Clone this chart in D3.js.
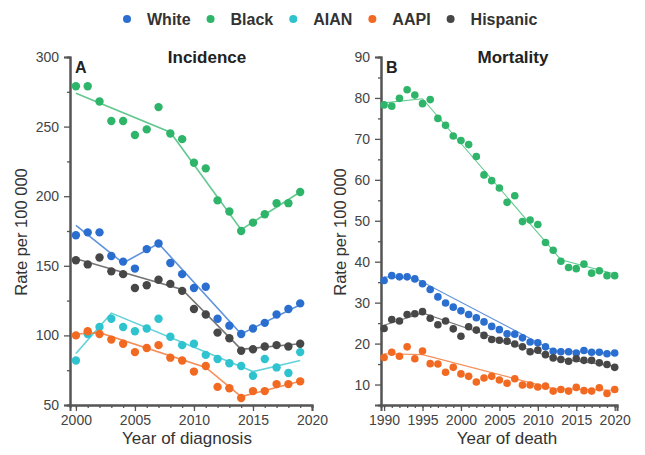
<html>
<head>
<style>
  body { margin: 0; background: #fff; }
  text { font-family: "Liberation Sans", Arial, sans-serif; }
</style>
</head>
<body>
<svg id="svg" width="645" height="455"></svg>
<script src="https://cdn.jsdelivr.net/npm/d3@7"></script>
<script type="text/javascript">
// ---- data ----
const groups = ["White", "Black", "AIAN", "AAPI", "Hispanic"];
const colors = ["#2a6fd0", "#2fb56a", "#2ec3cf", "#f26a22", "#474747"];

const incYears = d3.range(2000, 2020);
const incWhite = [172,174,174,157,153,148,162,166,152,144,134,135,112,107,101,105,109,115,119,123];
const incBlack = [279,279,268,254,254,244,248,264,245,241,224,220,197,189,175,181,187,195,195,203];
const incAIAN  = [82,101,106,112,106,103,105,112,99,93,94,86,83,80,78,71,83,77,73,88];
const incAAPI  = [100,103,101,97,94,88,91,93,84,82,74,78,63,62,55,60,60,65,65,67];
const incHisp  = [154,151,156,146,144,134,136,140,137,132,119,115,102,98,89,90,92,93,92,94];

// joinpoint trend lines (year, rate)
const incTrendWhite = [[2000,179],[2004,152],[2007,166],[2014,101],[2019,122]];
const incTrendBlack = [[2000,274],[2008,246],[2014,176],[2019,203]];
const incTrendAIAN  = [[2000,87],[2003,116],[2015,74],[2019,82]];
const incTrendAAPI  = [[2000,101],[2002,102],[2011,77],[2014,56],[2019,67]];
const incTrendHisp  = [[2000,155],[2009,133],[2014,90],[2019,94]];

const morYears = d3.range(1990, 2021);
const morWhite = [35.4,36.6,36.3,36.3,35.8,34.6,33.2,31.4,29.9,28.9,28.0,27.1,26.3,25.3,24.2,23.4,22.4,22.3,21.4,20.4,20.2,19.2,18.1,18.0,18.0,17.7,18.3,17.9,17.9,17.5,17.7];
const morBlack = [78.3,78.0,79.9,82.0,80.7,78.6,79.6,75.0,73.3,70.7,69.6,68.6,65.7,61.2,59.8,58.0,54.5,56.1,49.8,50.2,49.1,44.7,42.8,40.1,38.6,38.3,39.4,37.2,37.8,36.6,36.6];
const morAAPI  = [16.6,17.9,16.9,19.2,16.3,18.2,15.1,15.0,13.0,14.2,12.6,12.0,10.6,11.6,12.0,11.1,10.3,11.4,9.9,9.9,9.4,9.6,8.4,8.8,8.4,9.3,8.5,8.4,9.2,7.8,8.8];
const morHisp  = [23.7,25.9,25.5,27.1,27.3,27.8,26.2,24.6,25.5,23.6,21.8,24.1,23.3,22.0,21.0,20.8,20.6,19.9,19.2,18.0,18.4,17.3,16.5,16.1,15.7,16.3,15.9,15.9,15.3,14.9,14.2];

const morTrendWhite = [[1990,36.3],[1994,36.0],[2012,18.3],[2020,17.6]];
const morTrendBlack = [[1990,78.8],[1995,79.8],[2013,40.5],[2020,37]];
const morTrendAAPI  = [[1990,17.5],[1995,17.3],[2012,9.0],[2020,8.6]];
const morTrendHisp  = [[1990,24.5],[1995,27.5],[2012,16.5],[2020,14.5]];

const incTicksX = [2000, 2005, 2010, 2015, 2020];
const incTicksY = [50, 100, 150, 200, 250, 300];
const morTicksX = [1990, 1995, 2000, 2005, 2010, 2015, 2020];
const morTicksY = [10, 20, 30, 40, 50, 60, 70, 80, 90];

const svg = d3.select("#svg");

// ---- legend ----
let lx = 127;
groups.forEach(function (g, i) {
  svg.append("circle").attr("cx", lx).attr("cy", 19).attr("r", 4).attr("fill", colors[i]);
  let t = svg.append("text").attr("x", lx + 20).attr("y", 25)
    .attr("font-size", 16).attr("font-weight", "bold").attr("fill", "#333").text(g);
  lx += 20 + t.node().getComputedTextLength() + 20;
});

function panel(opt) {
  const x = d3.scaleLinear().domain(opt.xdom).range(opt.xr);
  const y = d3.scaleLinear().domain(opt.ydom).range([405, 57]);
  const g = svg.append("g");

  // axes
  const ax = g.append("g").attr("transform", "translate(0,405)");
  ax.call(d3.axisBottom(x).tickValues(opt.minorX).tickSize(3).tickFormat(""));
  ax.append("g").call(d3.axisBottom(x).tickValues(opt.ticksX).tickSize(6).tickPadding(4).tickFormat(d3.format("d")));
  const ay = g.append("g").attr("transform", "translate(" + opt.xr[0] + ",0)");
  ay.call(d3.axisLeft(y).tickValues(opt.minorY).tickSize(3).tickFormat(""));
  ay.append("g").call(d3.axisLeft(y).tickValues(opt.ticksY).tickSize(6).tickPadding(5));
  g.selectAll(".domain").attr("stroke", "#555").attr("stroke-width", 2);
  g.selectAll(".tick line").attr("stroke", "#555").attr("stroke-width", 1.3);
  g.selectAll(".tick text").attr("font-size", 14).attr("fill", "#444")
    .attr("font-family", "Liberation Sans, Arial, sans-serif");

  // trend lines
  const line = d3.line().x(d => x(d[0])).y(d => y(d[1]));
  opt.series.forEach(function (s) {
    g.append("path").attr("d", line(s.trend)).attr("fill", "none")
      .attr("stroke", colors[s.c]).attr("stroke-opacity", 0.75).attr("stroke-width", opt.lw);
  });
  // points
  opt.series.forEach(function (s) {
    g.append("g").selectAll("circle").data(s.vals).enter().append("circle")
      .attr("cx", (d, i) => x(opt.years[i]))
      .attr("cy", d => y(d))
      .attr("r", opt.r)
      .attr("fill", colors[s.c]);
  });

  // labels
  g.append("text").attr("x", opt.titleX).attr("y", 63).attr("text-anchor", "middle")
    .attr("font-size", 17).attr("font-weight", "bold").attr("fill", "#222").text(opt.title);
  g.append("text").attr("x", opt.xr[0] + 5).attr("y", 73)
    .attr("font-size", 16).attr("font-weight", "bold").attr("fill", "#222").text(opt.letter);
  g.append("text").attr("x", opt.xlabX).attr("y", 444).attr("text-anchor", "middle")
    .attr("font-size", 17).attr("fill", "#333").text(opt.xlab);
  g.append("text").attr("transform", "translate(" + opt.ylabX + ",232) rotate(-90)")
    .attr("text-anchor", "middle").attr("font-size", 16.5).attr("fill", "#333")
    .text("Rate per 100 000");
}

panel({
  xdom: [1999.5, 2020], xr: [70, 312], ydom: [50, 300],
  years: incYears, ticksX: incTicksX, ticksY: incTicksY,
  minorX: d3.range(2000, 2021), minorY: [75, 125, 175, 225, 275],
  r: 4.2, lw: 1.6,
  title: "Incidence", titleX: 207, letter: "A",
  xlab: "Year of diagnosis", xlabX: 187, ylabX: 27,
  series: [
    { vals: incWhite, trend: incTrendWhite, c: 0 },
    { vals: incBlack, trend: incTrendBlack, c: 1 },
    { vals: incAIAN, trend: incTrendAIAN, c: 2 },
    { vals: incAAPI, trend: incTrendAAPI, c: 3 },
    { vals: incHisp, trend: incTrendHisp, c: 4 }
  ]
});

panel({
  xdom: [1989.6, 2020.3], xr: [381, 617], ydom: [5, 90],
  years: morYears, ticksX: morTicksX, ticksY: morTicksY,
  minorX: d3.range(1990, 2021), minorY: [15, 25, 35, 45, 55, 65, 75, 85],
  r: 3.8, lw: 1.1,
  title: "Mortality", titleX: 513, letter: "B",
  xlab: "Year of death", xlabX: 507, ylabX: 346,
  series: [
    { vals: morWhite, trend: morTrendWhite, c: 0 },
    { vals: morBlack, trend: morTrendBlack, c: 1 },
    { vals: morAAPI, trend: morTrendAAPI, c: 3 },
    { vals: morHisp, trend: morTrendHisp, c: 4 }
  ]
});
</script>
</body>
</html>
